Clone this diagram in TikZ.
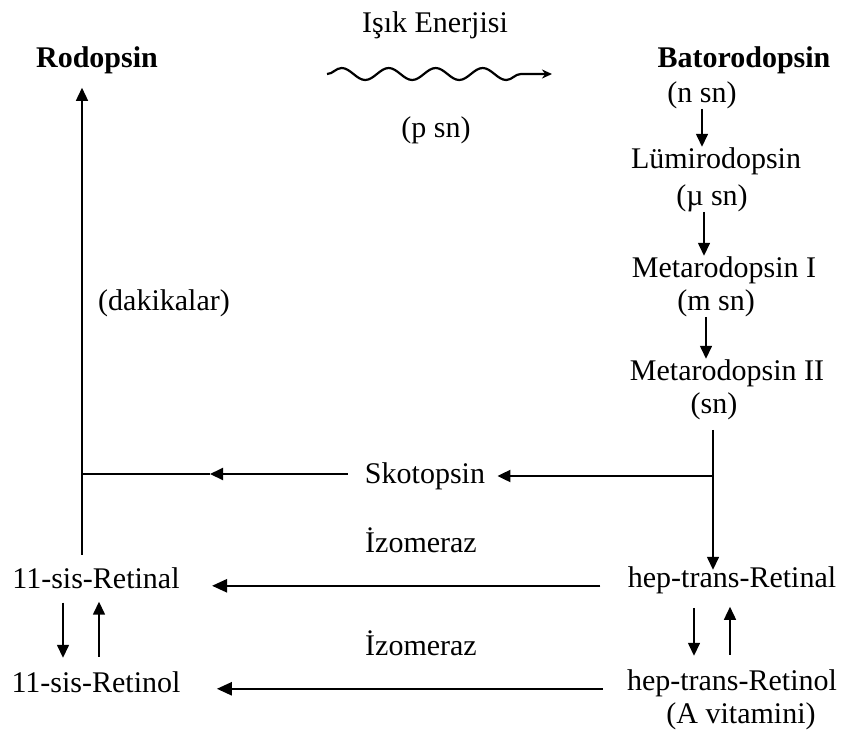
\documentclass[tikz,border=0pt]{standalone}
\usepackage{fontspec}
\setmainfont{Liberation Serif}
\usetikzlibrary{arrows.meta,decorations.pathmorphing}
\tikzset{
  lbl/.style={anchor=base,inner sep=0pt,font=\fontsize{15}{18}\selectfont},
  arr/.style={-{Triangle[length=6.5pt,width=6pt]},line width=0.75pt},
  harr/.style={-{Triangle[length=7.5pt,width=6.5pt]},line width=1.2pt},
  vshort/.style={shorten <=7pt,shorten >=6.5pt}
}
\begin{document}
\begin{tikzpicture}[x=0.5pt,y=-0.5pt]
  \useasboundingbox (0,0) rectangle (845,734);
  % top row
  \node[lbl] (isik) at (435,32) {Işık Enerjisi};
  \node[lbl] (psn) at (436,137) {(p sn)};
  \node[lbl,font=\fontsize{15}{18}\selectfont\bfseries] (rod) at (97,67) {Rodopsin};
  \node[lbl,font=\fontsize{15}{18}\selectfont\bfseries] (bato) at (744,67) {Batorodopsin};
  \coordinate (wA) at (327,74);
  \coordinate (wB) at (552,74);
  \draw[line width=1.1pt,-{Stealth[length=5pt,width=4.5pt]},decorate,
        decoration={snake,segment length=23.5pt,amplitude=3pt,post length=9pt}] (wA) -- (wB);
  % right chain
  \node[lbl] (nsn) at (702,102) {(n sn)};
  \node[lbl] (lumi) at (716,168) {Lümirodopsin};
  \node[lbl] (musn) at (712,205) {(µ sn)};
  \node[lbl] (metaI) at (724,277) {Metarodopsin I};
  \node[lbl] (msn) at (716,310) {(m sn)};
  \node[lbl] (metaII) at (727,380) {Metarodopsin II};
  \node[lbl] (sn) at (714,413) {(sn)};
  \draw[arr] (nsn.south) -- (nsn.south |- lumi.north);
  \draw[arr] ([xshift=-4pt]musn.south) -- ([xshift=-4pt]musn.south |- metaI.north);
  \draw[arr] ([xshift=-5pt]msn.south) -- ([xshift=-5pt]msn.south |- metaII.north);
  % middle
  \node[lbl] (dak) at (164,310) {(dakikalar)};
  \node[lbl] (skot) at (425,483) {Skotopsin};
  \node[lbl] (izoA) at (421,552) {İzomeraz};
  \node[lbl] (izoB) at (421,655) {İzomeraz};
  \coordinate (jR) at (713,476);
  \coordinate (jL) at (82,474);
  \coordinate (tipS) at (210,474);
  \draw[line width=0.75pt] ([yshift=-5pt]sn.south -| jR) -- (jR);
  \draw[arr,line width=1pt,shorten >=6pt] (jR) -- (jR -| skot.east);
  \draw[arr,line width=1pt,shorten <=8.5pt] (jL -| skot.west) -- (tipS);
  \draw[line width=1pt] (tipS) -- (jL);
  % bottom rows
  \node[lbl] (sisal) at (96,588) {11-sis-Retinal};
  \node[lbl] (sisol) at (96,692) {11-sis-Retinol};
  \node[lbl] (hepal) at (732,587) {hep-trans-Retinal};
  \node[lbl] (hepol) at (732,690) {hep-trans-Retinol};
  \node[lbl] (avit) at (741,723) {(A vitamini)};
  \draw[arr] (jR) -- ([yshift=-2pt]jR |- hepal.north);
  \draw[arr] ([yshift=6pt]sisal.north -| jL) -- ([yshift=-7pt]rod.south -| jL);
  \draw[harr,shorten <=13.5pt,shorten >=16pt] ([yshift=-3pt]hepal.west) -- ([yshift=-3pt]hepal.west -| sisal.east);
  \draw[harr,shorten <=12pt,shorten >=18pt] ([yshift=-3pt]hepol.west) -- ([yshift=-3pt]hepol.west -| sisol.east);
  \draw[arr,vshort] ([xshift=-16.5pt]sisal.south) -- ([xshift=-16.5pt]sisal.south |- sisol.north);
  \draw[arr,vshort] ([xshift=1.5pt]sisol.north) -- ([xshift=1.5pt]sisol.north |- sisal.south);
  \draw[arr,vshort] ([xshift=-19pt]hepal.south) -- ([xshift=-19pt]hepal.south |- hepol.north);
  \draw[arr,vshort] ([xshift=-1pt]hepol.north) -- ([xshift=-1pt]hepol.north |- hepal.south);
\end{tikzpicture}
\end{document}
